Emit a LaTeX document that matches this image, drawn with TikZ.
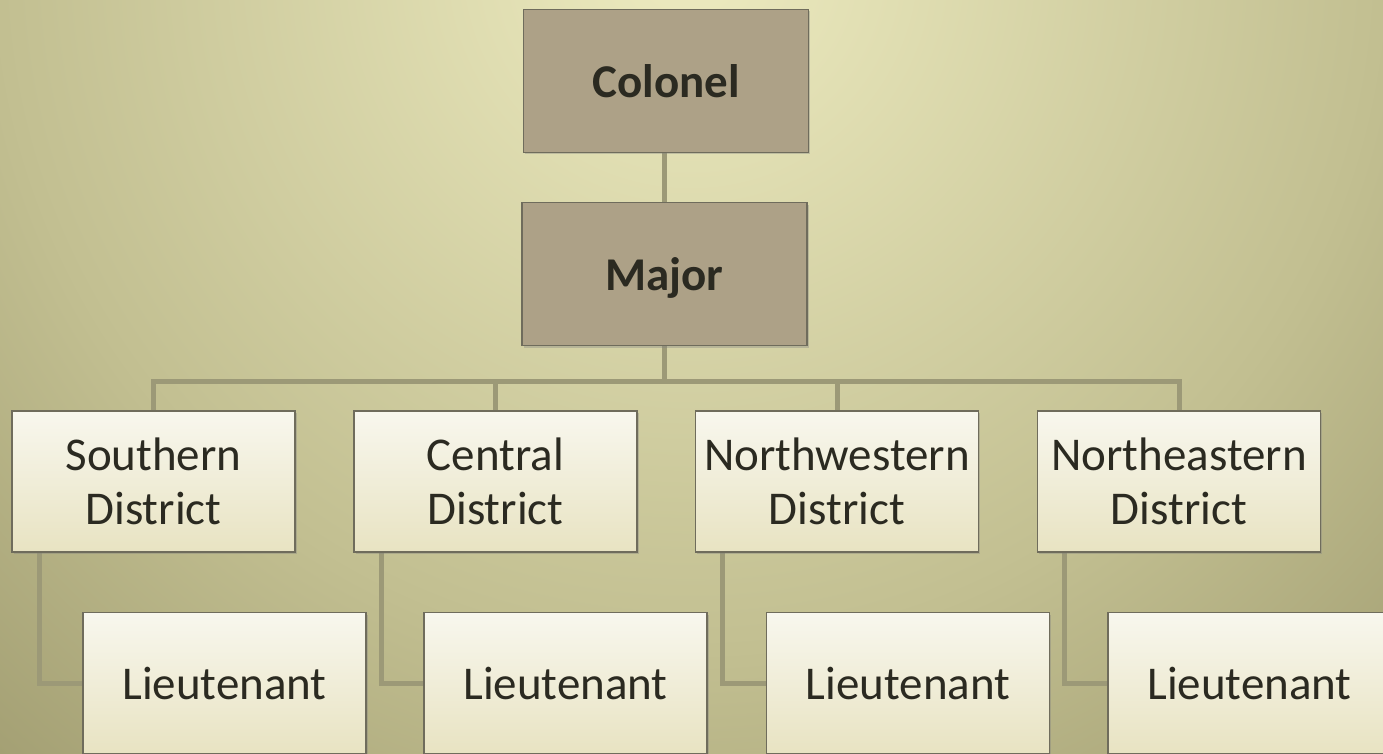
\documentclass[tikz,border=0pt]{standalone}
\usepackage{fontspec}
\setmainfont{Carlito}
\usetikzlibrary{shadows,backgrounds}
\definecolor{bglight}{HTML}{EDEBC0}
\definecolor{bgmid}{HTML}{C2BF91}
\definecolor{bgdark}{HTML}{A09C70}
\definecolor{boxtop}{HTML}{F8F7EE}
\definecolor{boxbot}{HTML}{E8E3C2}
\definecolor{rankfill}{HTML}{ADA187}
\definecolor{edgegray}{HTML}{6F6C5C}
\definecolor{linkcol}{HTML}{9C9977}
\definecolor{inkcol}{HTML}{2B2A21}
\pgfdeclareradialshading{bgglow}{\pgfpoint{0bp}{0bp}}{color(0bp)=(bglight); color(15.7bp)=(bgmid); color(25bp)=(bgdark); color(50bp)=(bgdark)}

\begin{document}
\begin{tikzpicture}[x=1pt,y=-1pt,
   rank/.style={draw=edgegray, line width=1.2pt, fill=rankfill,
      minimum width=285pt, minimum height=143pt, inner sep=0pt,
      text=inkcol, text depth=0pt, font=\fontsize{47}{54}\selectfont\bfseries,
      drop shadow={shadow xshift=1.5pt, shadow yshift=-2pt, opacity=0.35}},
   unit/.style={draw=edgegray, line width=1.2pt, top color=boxtop, bottom color=boxbot,
      minimum width=283pt, minimum height=141pt, inner sep=0pt, align=center,
      text=inkcol, font=\fontsize{47}{54}\selectfont,
      drop shadow={shadow xshift=1.5pt, shadow yshift=-2pt, opacity=0.35}},
   link/.style={draw=linkcol, line width=5pt}]
   \useasboundingbox (0,0) rectangle (1383,754);

   \node[rank] (col) at (666,81) {Colonel};
   \node[rank] (maj) at (664.5,274) {Major};

   \node[unit] (sd) at (153.5,481.5) {Southern\\District};
   \node[unit] (cd) at (495.5,481.5) {Central\\District};
   \node[unit] (nwd) at (837,481.5) {Northwestern\\District};
   \node[unit] (ned) at (1179,481.5) {Northeastern\\District};

   \node[unit] (sl) at (224.5,683) {Lieutenant};
   \node[unit] (cl) at (565.5,683) {Lieutenant};
   \node[unit] (nwl) at (908,683) {Lieutenant};
   \node[unit] (nel) at (1249.5,683) {Lieutenant};

   \coordinate (hub) at (664.5,381);

   \begin{scope}[on background layer]
   \clip (0,0) rectangle (1383,754);
   \shade[shading=bgglow] (690,-40) circle (1100);
   \end{scope}

   \begin{scope}[on background layer]
   \draw[link] (maj.north) -- (maj.north |- col.south);
   \draw[link] (maj.south) -- (hub);
   \draw[link] (sd.north) |- (hub) -| (ned.north);
   \draw[link] (cd.north) -- (cd.north |- hub);
   \draw[link] (nwd.north) -- (nwd.north |- hub);
   \foreach \d/\l in {sd/sl,cd/cl,nwd/nwl,ned/nel}
      \draw[link] ([xshift=28pt]\d.south west) |- (\l.west);
   \end{scope}
\end{tikzpicture}
\end{document}
